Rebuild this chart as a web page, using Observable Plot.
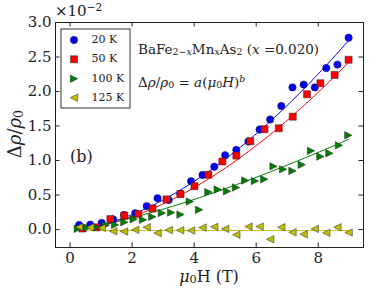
<!DOCTYPE html>
<html><head><meta charset="utf-8">
<script src="https://cdn.jsdelivr.net/npm/d3@7"></script>
<script src="https://cdn.jsdelivr.net/npm/@observablehq/plot@0.6"></script>
<style>body{margin:0;background:#fff;} svg{overflow:visible}</style>
</head><body><div id="chart"></div>
<script>
// ---- data (Δρ/ρ0 in units of 1e-2, field in T) ----
const field20 = [0.29,0.65,1.02,1.39,1.74,2.10,2.47,2.82,3.18,3.55,3.90,4.27,4.65,5.00,5.36,5.75,6.11,6.45,6.81,7.17,7.53,7.89,8.26,8.62,8.98];
const rho20   = [0.065,0.072,0.097,0.145,0.21,0.236,0.34,0.454,0.428,0.52,0.70,0.79,0.91,1.077,1.155,1.275,1.45,1.595,1.79,2.06,2.10,2.06,2.34,2.39,2.78];
const field50 = [0.40,0.85,1.30,1.75,2.20,2.66,3.11,3.56,4.01,4.46,4.91,5.36,5.81,6.27,6.73,7.18,7.64,8.07,8.53,8.98];
const rho50   = [0.015,0.033,0.152,0.203,0.225,0.307,0.437,0.514,0.628,0.794,0.986,1.072,1.28,1.454,1.468,1.635,1.96,2.12,2.24,2.46];
const field100 = [0.25,0.55,0.85,1.15,1.45,1.75,2.05,2.35,2.65,2.96,3.26,3.56,3.86,4.16,4.46,4.76,5.06,5.35,5.65,5.96,6.26,6.56,6.87,7.17,7.47,7.77,8.07,8.36,8.67,8.97];
const rho100   = [0.01,0.029,0.033,0.062,0.068,0.106,0.149,0.141,0.184,0.239,0.246,0.217,0.406,0.286,0.543,0.58,0.554,0.609,0.71,0.703,0.729,0.916,0.872,0.85,0.939,1.14,1.058,1.105,1.22,1.366];
const field125 = [0.29,0.65,1.02,1.39,1.74,2.10,2.47,2.82,3.18,3.55,3.90,4.27,4.65,5.00,5.36,5.75,6.11,6.45,6.81,7.17,7.53,7.89,8.26,8.62,8.98];
const rho125   = [0.036,0.033,0.025,-0.025,-0.029,-0.004,0.033,-0.051,-0.007,-0.01,-0.014,0.029,0.039,0.01,-0.075,0.043,0.043,-0.141,0.033,-0.041,-0.068,0.01,-0.048,0.033,-0.043];
// fit parameters of Δρ/ρ0 = a(μ0H)^b
const fitA = [0.0671, 0.0568, 0.0668, -0.015];
const fitB = [1.69, 1.71, 1.355, 0];
const labels = ["20 K","50 K","100 K","125 K"];
const colors = ["#0000ff","#ff0000","#007f00","#bfbf00"];
const xTicks = [0,2,4,6,8];
const yTicks = [0,0.5,1,1.5,2,2.5,3];

// ---- symbols ----
const symCircle = {draw(c,size){const s=Math.sqrt(size/Math.PI);c.moveTo(s,0);c.arc(0,0,s,0,2*Math.PI);}};
const symSquare = {draw(c,size){const s=Math.sqrt(size/Math.PI)*0.95;c.moveTo(-s,-s);c.lineTo(s,-s);c.lineTo(s,s);c.lineTo(-s,s);c.closePath();}};
const symRight = {draw(c,size){const s=Math.sqrt(size/Math.PI);c.moveTo(s,0);c.lineTo(-s,s);c.lineTo(-s,-s);c.closePath();}};
const symLeft  = {draw(c,size){const s=Math.sqrt(size/Math.PI);c.moveTo(-s,0);c.lineTo(s,-s);c.lineTo(s,s);c.closePath();}};
const symbols = [symCircle, symSquare, symRight, symLeft];

const fields = [field20, field50, field100, field125];
const rhos = [rho20, rho50, rho100, rho125];

const W = 382, H = 288;
const mL = 55, mR = 19, mT = 22, mB = 41;
const xDomain = [-0.47, 9.46], yDomain = [-0.26, 3.0];
const pxX = (xDomain[1]-xDomain[0])/(W-mL-mR);
const pxY = (yDomain[1]-yDomain[0])/(H-mT-mB);
const tickLen = 4.5;

const marks = [];
fields.forEach((f, i) => {
  const lo = d3.min(f), hi = d3.max(f);
  const fit = d3.range(0, 81).map(k => { const xv = lo + (hi-lo)*k/80; return {x: xv, y: fitA[i]*Math.pow(xv, fitB[i])}; });
  marks.push(Plot.line(fit, {x:"x", y:"y", stroke: colors[i], strokeWidth: 1}));
});
fields.forEach((f, i) => {
  const pts = f.map((xv, k) => ({x: xv, y: rhos[i][k]}));
  marks.push(Plot.dot(pts, {x:"x", y:"y", symbol: symbols[i], r: 3.7, fill: colors[i], stroke: "#222", strokeWidth: 0.5}));
});
// inward ticks on all sides
marks.push(Plot.ruleX(xTicks, {y1: yDomain[0], y2: yDomain[0] + tickLen*pxY, stroke: "#222"}));
marks.push(Plot.ruleX(xTicks, {y1: yDomain[1], y2: yDomain[1] - tickLen*pxY, stroke: "#222"}));
marks.push(Plot.ruleY(yTicks, {x1: xDomain[0], x2: xDomain[0] + tickLen*pxX, stroke: "#222"}));
marks.push(Plot.ruleY(yTicks, {x1: xDomain[1], x2: xDomain[1] - tickLen*pxX, stroke: "#222"}));
marks.push(Plot.frame({stroke: "#222", strokeWidth: 1}));
marks.push(Plot.axisX(xTicks, {tickSize: 0, tickPadding: 5, label: null, tickFormat: d => d}));
marks.push(Plot.axisY(yTicks, {tickSize: 0, tickPadding: 4, label: null, tickFormat: d3.format(".1f")}));

const plot = Plot.plot({
  width: W, height: H,
  marginLeft: mL, marginRight: mR, marginTop: mT, marginBottom: mB,
  x: {domain: xDomain, label: null},
  y: {domain: yDomain, label: null},
  style: {fontFamily: "DejaVu Serif", fontSize: "15px", color: "#222", background: "white", overflow: "visible"},
  marks
});
document.getElementById("chart").appendChild(plot);

// ---- annotations ----
const svg = d3.select(plot);
function rich(x, y, parts, size, opts = {}) {
  const t = svg.append("text").attr("x", x).attr("y", y)
    .attr("font-family", "DejaVu Serif").attr("font-size", size).attr("fill", "#222")
    .attr("text-anchor", opts.anchor || "start").attr("dominant-baseline", "middle");
  if (opts.rotate) t.attr("transform", `rotate(${opts.rotate},${x},${y})`);
  parts.forEach(p => {
    const [txt, kind, ital] = p;
    const ts = t.append("tspan").text(txt);
    if (ital) ts.attr("font-style", "italic");
    if (kind === "sub") ts.attr("baseline-shift", "-25%").attr("font-size", size*0.7);
    if (kind === "sup") ts.attr("baseline-shift", "40%").attr("font-size", size*0.7);
  });
  return t;
}
rich(55, 12, [["×10"], ["−2","sup"]], 15);
rich(138, 50, [["BaFe"],["2−","sub"],["x","sub",true],["Mn"],["x","sub",true],["As"],["2","sub"],[" ("],["x","",true],[" =0.020)"]], 13.5);
rich(138, 83, [["Δ"],["ρ","",true],["/"],["ρ","",true],["0","sub"],[" = "],["a","",true],["("],["μ","",true],["0","sub"],["H","",true],[")"],["b","sup",true]], 13.5);
rich(70, 157, [["(b)"]], 16);
rich(209, 277, [["μ","",true],["0","sub"],["H (T)"]], 16, {anchor: "middle"});
rich(16, 134, [["Δ"],["ρ","",true],["/"],["ρ","",true],["0","sub"]], 18, {anchor: "middle", rotate: -90});

// legend
const lg = svg.append("g");
lg.append("rect").attr("x", 61).attr("y", 29).attr("width", 69).attr("height", 79)
  .attr("fill", "white").attr("stroke", "#333").attr("stroke-width", 1);
const rowsY = [40, 59.3, 78.7, 97.7];
labels.forEach((lab, i) => {
  const size = Math.PI*3.7*3.7;
  const p = d3.path(); symbols[i].draw(p, size);
  lg.append("path").attr("d", p.toString()).attr("transform", `translate(74,${rowsY[i]})`)
    .attr("fill", colors[i]).attr("stroke", "#222").attr("stroke-width", 0.5);
  lg.append("text").attr("x", 91.5).attr("y", rowsY[i]).attr("dominant-baseline", "middle")
    .attr("text-anchor", "start")
    .attr("font-family", "DejaVu Serif").attr("font-size", 11).attr("fill", "#222").text(lab);
});
</script>
</body></html>
